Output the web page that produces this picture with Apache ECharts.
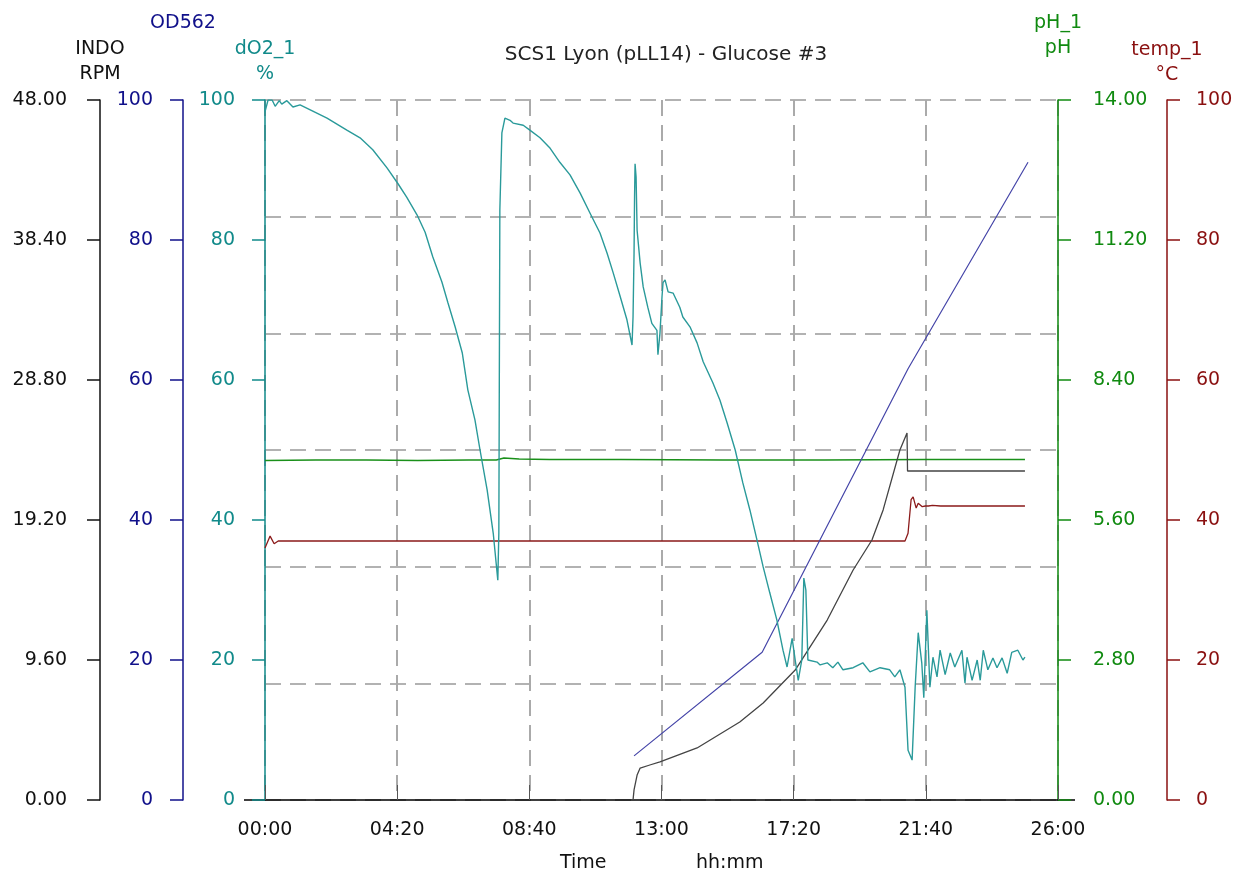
<!DOCTYPE html>
<html>
<head>
<meta charset="utf-8">
<script src="https://cdn.jsdelivr.net/npm/echarts@6/dist/echarts.min.js"></script>
<style>
  html, body { margin: 0; padding: 0; background: #fff; }
  #chart { width: 1238px; height: 877px; }
</style>
</head>
<body>
<div id="chart"></div>
<script>
// time in minutes since start
const do2Time = [0, 6, 14, 20, 28, 33, 43, 55, 69, 89, 122, 161, 187, 212, 240, 262, 279, 299, 315, 330, 348, 360, 374, 388, 399, 413, 423, 437, 449, 458, 460, 462, 466, 472, 482, 488, 508, 521, 541, 561, 580, 600, 620, 639, 659, 673, 685, 698, 712, 722, 724, 726, 727, 728, 730, 732, 738, 744, 753, 761, 771, 773, 777, 781, 783, 787, 793, 803, 816, 822, 836, 850, 862, 881, 895, 909, 925, 940, 954, 968, 980, 993, 1007, 1019, 1027, 1037, 1043, 1049, 1056, 1060, 1064, 1068, 1086, 1092, 1106, 1117, 1127, 1137, 1157, 1176, 1190, 1210, 1229, 1239, 1249, 1259, 1265, 1273, 1279, 1285, 1292, 1296, 1302, 1308, 1314, 1322, 1328, 1338, 1348, 1357, 1371, 1377, 1381, 1391, 1401, 1407, 1413, 1422, 1432, 1440, 1450, 1460, 1469, 1481, 1491, 1495];
const do2Value = [98.3, 100, 100, 99.1, 99.9, 99.4, 99.9, 99.0, 99.3, 98.6, 97.4, 95.7, 94.6, 92.9, 90.3, 88.0, 86.1, 83.6, 81.1, 77.6, 74.0, 71.0, 67.6, 63.9, 58.6, 54.3, 50.0, 44.3, 38.1, 31.4, 38.1, 84.3, 95.3, 97.4, 97.1, 96.7, 96.4, 95.7, 94.6, 93.1, 91.1, 89.3, 86.7, 83.9, 81.0, 78.1, 75.3, 72.1, 68.6, 65.0, 69.0, 78.1, 86.1, 90.9, 89.0, 81.4, 76.7, 73.3, 70.4, 68.1, 67.1, 63.6, 66.7, 71.9, 73.9, 74.3, 72.6, 72.4, 70.4, 69.0, 67.6, 65.3, 62.6, 59.6, 57.1, 53.9, 50.0, 45.3, 41.4, 37.1, 33.3, 29.6, 25.7, 21.4, 19.0, 23.1, 20.0, 17.1, 20.0, 31.7, 30.0, 20.0, 19.7, 19.3, 19.6, 18.9, 19.7, 18.6, 18.9, 19.6, 18.3, 18.9, 18.6, 17.6, 18.6, 16.1, 7.1, 5.7, 16.1, 23.9, 19.6, 14.6, 27.1, 16.1, 20.4, 17.6, 21.4, 17.9, 21.0, 19.0, 21.4, 16.7, 20.4, 17.1, 20.0, 17.1, 21.4, 18.6, 20.3, 18.9, 20.3, 18.1, 21.1, 21.4, 20.0, 20.4];

const phTime = [0, 100, 200, 300, 400, 455, 470, 500, 560, 700, 900, 1100, 1300, 1495];
const phValue = [6.79, 6.80, 6.80, 6.79, 6.80, 6.80, 6.84, 6.82, 6.81, 6.81, 6.80, 6.80, 6.81, 6.81];

const tempTime = [0, 2, 10, 18, 26, 34, 400, 800, 1259, 1265, 1271, 1275, 1281, 1285, 1293, 1299, 1305, 1313, 1329, 1495];
const tempValue = [36.0, 36.2, 37.7, 36.6, 37.0, 37.0, 37.0, 37.0, 37.0, 38.1, 42.9, 43.3, 41.7, 42.4, 41.9, 42.0, 42.0, 42.1, 42.0, 42.0];

const indoTime = [724, 726, 732, 738, 757, 777, 850, 934, 980, 1043, 1106, 1157, 1194, 1216, 1249, 1263, 1264, 1495];
const indoValue = [0, 0.69, 1.71, 2.19, 2.4, 2.61, 3.57, 5.35, 6.65, 8.91, 12.34, 15.77, 17.83, 19.89, 24.0, 25.17, 22.56, 22.56];

const odTime = [726, 978, 1265, 1501];
const odValue = [6.3, 21.1, 61.6, 91.1];

const pairs = (t, v) => t.map((x, i) => [x, v[i]]);

const hhmm = (m) => {
  const h = Math.floor(m / 60);
  const mm = Math.round(m % 60);
  return String(h).padStart(2, "0") + ":" + String(mm).padStart(2, "0");
};

const FONT = "DejaVu Sans, Verdana, sans-serif";
const FS = 19;

const chart = echarts.init(document.getElementById("chart"));

const yAxisBase = (color, min, max, interval, position, offset, name, nameGap, margin, fmt) => ({
  type: "value",
  min: min,
  max: max,
  interval: interval,
  position: position,
  offset: offset,
  name: name,
  nameLocation: "end",
  nameGap: nameGap,
  nameTextStyle: { color: color, fontFamily: FONT, fontSize: FS, lineHeight: 25, align: "center" },
  axisLine: { show: true, onZero: false, lineStyle: { color: color, width: 1.5 } },
  axisTick: { show: true, length: 13, lineStyle: { color: color, width: 1.5 } },
  axisLabel: { color: color, fontFamily: FONT, fontSize: FS, margin: margin, formatter: fmt },
  splitLine: { show: false },
});

const option = {
  animation: false,
  backgroundColor: "#fff",
  title: {
    text: "SCS1 Lyon (pLL14) - Glucose #3",
    left: 661,
    top: 40,
    textAlign: "center",
    textStyle: { color: "#222", fontFamily: FONT, fontSize: 20, fontWeight: "normal" },
  },
  grid: { left: 265, right: 180, top: 100, bottom: 77, containLabel: false },
  xAxis: {
    type: "value",
    min: 0,
    max: 1560,
    interval: 260,
    axisLine: { onZero: false, lineStyle: { color: "#000", width: 1.5 } },
    axisTick: { inside: true, length: 15, lineStyle: { color: "#555", width: 1 } },
    axisLabel: { color: "#111", fontFamily: FONT, fontSize: FS, margin: 21, formatter: hhmm },
    splitLine: { show: true, lineStyle: { color: "#aaa", width: 2, type: [16, 9] } },
  },
  yAxis: [
    yAxisBase("#111", 0, 48, 9.6, "left", 165, "INDO\nRPM", 13, 33, (v) => v.toFixed(2)),
    yAxisBase("#10108a", 0, 100, 20, "left", 82, "OD562", 64, 30, (v) => String(v)),
    yAxisBase("#118a8a", 0, 100, 20, "left", 0, "dO2_1\n%", 13, 30, (v) => String(v)),
    yAxisBase("#108a10", 0, 14, 2.8, "right", 0, "pH_1\npH", 39, 35, (v) => v.toFixed(2)),
    yAxisBase("#8a1010", 0, 100, 20, "right", 109, "temp_1\n°C", 12, 29, (v) => String(v)),
    {
      type: "value",
      min: 0,
      max: 6,
      interval: 1,
      position: "left",
      axisLine: { show: false },
      axisTick: { show: false },
      axisLabel: { show: false },
      splitLine: { show: true, lineStyle: { color: "#999", width: 1.5, type: [16, 9] } },
    },
  ],
  graphic: [
    { type: "line", shape: { x1: 244, y1: 800, x2: 265, y2: 800 }, style: { stroke: "#000", lineWidth: 1.5 } },
    { type: "line", shape: { x1: 1058, y1: 800, x2: 1075, y2: 800 }, style: { stroke: "#000", lineWidth: 1.5 } },
    { type: "text", left: 560, top: 854, style: { text: "Time", fill: "#111", font: FS + "px " + FONT } },
    { type: "text", left: 696, top: 854, style: { text: "hh:mm", fill: "#111", font: FS + "px " + FONT } },
  ],
  series: [
    {
      name: "pH_1", type: "line", yAxisIndex: 3, showSymbol: false, symbol: "none",
      lineStyle: { color: "#1a901a", width: 1.3 }, data: pairs(phTime, phValue), z: 3,
    },
    {
      name: "temp_1", type: "line", yAxisIndex: 4, showSymbol: false, symbol: "none",
      lineStyle: { color: "#8b1a1a", width: 1.3 }, data: pairs(tempTime, tempValue), z: 3,
    },
    {
      name: "OD562", type: "line", yAxisIndex: 1, showSymbol: false, symbol: "none",
      lineStyle: { color: "#4545a8", width: 1.2 }, data: pairs(odTime, odValue), z: 4,
    },
    {
      name: "INDO", type: "line", yAxisIndex: 0, showSymbol: false, symbol: "none",
      lineStyle: { color: "#444", width: 1.3 }, data: pairs(indoTime, indoValue), z: 4,
    },
    {
      name: "dO2_1", type: "line", yAxisIndex: 2, showSymbol: false, symbol: "none",
      lineStyle: { color: "#2a9a9a", width: 1.4 }, data: pairs(do2Time, do2Value), z: 5,
    },
  ],
};

chart.setOption(option);
</script>
</body>
</html>
